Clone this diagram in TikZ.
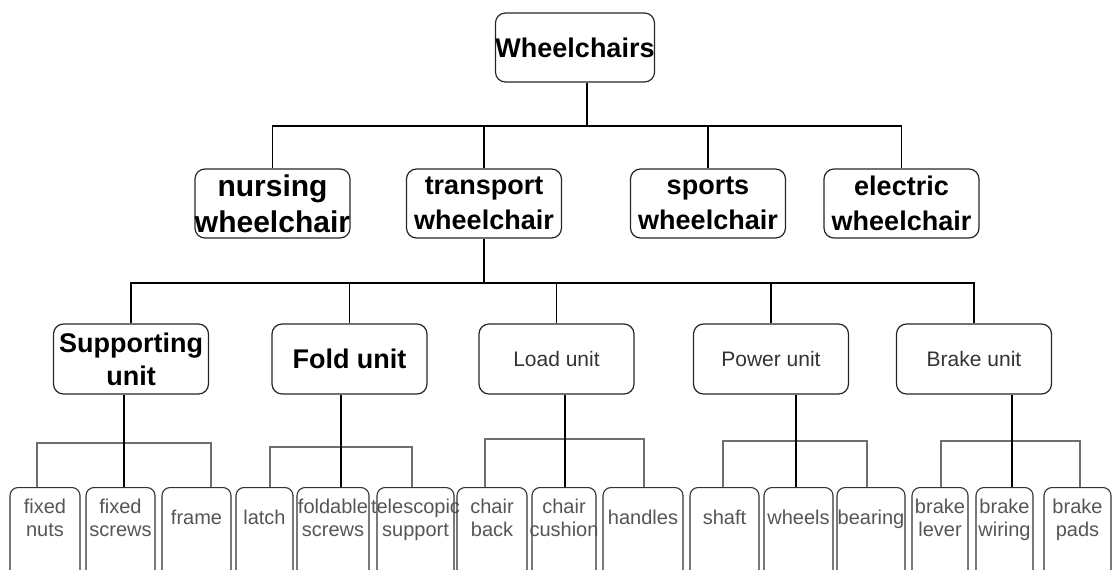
\documentclass[tikz,border=0pt]{standalone}
\usepackage{fontspec}
\setmainfont{Liberation Sans}
\definecolor{txtgray}{HTML}{333333}
\definecolor{leafgray}{HTML}{555555}
\definecolor{wiregray}{HTML}{6E6E6E}
\newcommand\leafi[1]{\begin{tabular}{@{}c@{}}\makebox[0pt]{#1}\end{tabular}}
\newcommand\leafii[2]{\begin{tabular}{@{}c@{}}\makebox[0pt]{#1}\\\makebox[0pt]{#2}\end{tabular}}
\begin{document}
\begin{tikzpicture}[x=1pt,y=-1pt,
  box/.style={draw=black!85, line width=1.2pt, rounded corners=10pt, inner sep=0pt, minimum width=155pt, minimum height=69pt, align=center},
  bigtxt/.style={font=\fontsize{27}{35}\selectfont\bfseries},
  midtxt/.style={font=\fontsize{21}{25}\selectfont, text=txtgray},
  leaf/.style={draw=black!80, line width=1.1pt, rounded corners=8pt, inner sep=0pt, anchor=north, text height=38pt, text depth=80pt, font=\fontsize{20}{23}\selectfont, text=leafgray},
  wire/.style={line width=1.2pt},
  twig/.style={draw=wiregray, line width=1.6pt}]
\clip (0,0) rectangle (1117,570);
\node[box, bigtxt] (w0) at (575,47.5){Wheelchairs};
\node[box, font=\fontsize{30}{36}\selectfont\bfseries] (w1) at (272.5,203.5){nursing\\wheelchair};
\node[box, bigtxt] (w2) at (484,203.5){transport\\wheelchair};
\node[box, bigtxt] (w3) at (708,203.5){sports\\wheelchair};
\node[box, bigtxt] (w4) at (901.5,203.5){electric\\wheelchair};
\coordinate (j0) at (587,126);
\draw[wire] (w0.south -| j0) -- (j0);
\draw[wire] (w1.north) |- (j0) -| (w4.north);
\draw[wire] (j0) -| (w2.north);
\draw[wire] (j0) -| (w3.north);
\node[box, minimum height=70pt, font=\fontsize{27}{33}\selectfont\bfseries] (u1) at (131,359){Supporting\\unit};
\node[box, minimum height=70pt, bigtxt] (u2) at (349.5,359){Fold unit};
\node[box, minimum height=70pt, midtxt] (u3) at (556.5,359){Load unit};
\node[box, minimum height=70pt, midtxt] (u4) at (771,359){Power unit};
\node[box, minimum height=70pt, midtxt] (u5) at (974,359){Brake unit};
\coordinate (j1) at (484,283);
\draw[wire] (w2.south) -- (j1);
\draw[wire] (u1.north) |- (j1) -| (u5.north);
\draw[wire] (j1) -| (u2.north);
\draw[wire] (j1) -| (u3.north);
\draw[wire] (j1) -| (u4.north);
% supporting unit
\node[leaf, minimum width=70pt] (p1) at (45,487){\leafii{fixed}{nuts}};
\node[leaf, minimum width=69pt] (p2) at (120.5,487){\leafii{fixed}{screws}};
\node[leaf, minimum width=69pt] (p3) at (196.5,487){\leafi{frame}};
\coordinate (ja) at (124,443);
\draw[twig] ([xshift=-8pt]p1.north) |- (ja) -| ([xshift=14.5pt]p3.north);
\draw[wire] (u1.south -| ja) -- (p2.north -| ja);
% fold unit
\node[leaf, minimum width=57pt] (p4) at (264.5,487){\leafi{latch}};
\node[leaf, minimum width=72pt] (p5) at (333,487){\leafii{foldable}{screws}};
\node[leaf, minimum width=77pt] (p6) at (415.5,487){\leafii{telescopic}{support}};
\coordinate (jb) at (341,447);
\draw[twig] ([xshift=5.5pt]p4.north) |- (jb) -| ([xshift=-3.5pt]p6.north);
\draw[wire] (u2.south -| jb) -- (p5.north -| jb);
% load unit
\node[leaf, minimum width=70pt] (p7) at (492,487){\leafii{chair}{back}};
\node[leaf, minimum width=64pt] (p8) at (564,487){\leafii{chair}{cushion}};
\node[leaf, minimum width=80pt] (p9) at (643,487){\leafi{handles}};
\coordinate (jc) at (565,439);
\draw[twig] ([xshift=-7pt]p7.north) |- (jc) -| ([xshift=1pt]p9.north);
\draw[wire] (u3.south -| jc) -- (p8.north -| jc);
% power unit
\node[leaf, minimum width=69pt] (p10) at (724.5,487){\leafi{shaft}};
\node[leaf, minimum width=69pt] (p11) at (798.5,487){\leafi{wheels}};
\node[leaf, minimum width=68pt] (p12) at (871,487){\leafi{bearing}};
\coordinate (jd) at (796,441);
\draw[twig] ([xshift=-1.5pt]p10.north) |- (jd) -| ([xshift=-4pt]p12.north);
\draw[wire] (u4.south -| jd) -- (p11.north -| jd);
% brake unit
\node[leaf, minimum width=56pt] (p13) at (940,487){\leafii{brake}{lever}};
\node[leaf, minimum width=57pt] (p14) at (1004.5,487){\leafii{brake}{wiring}};
\node[leaf, minimum width=67pt] (p15) at (1077.5,487){\leafii{brake}{pads}};
\coordinate (je) at (1012,441);
\draw[twig] ([xshift=1pt]p13.north) |- (je) -| ([xshift=2.5pt]p15.north);
\draw[wire] (u5.south -| je) -- (p14.north -| je);
\end{tikzpicture}
\end{document}
